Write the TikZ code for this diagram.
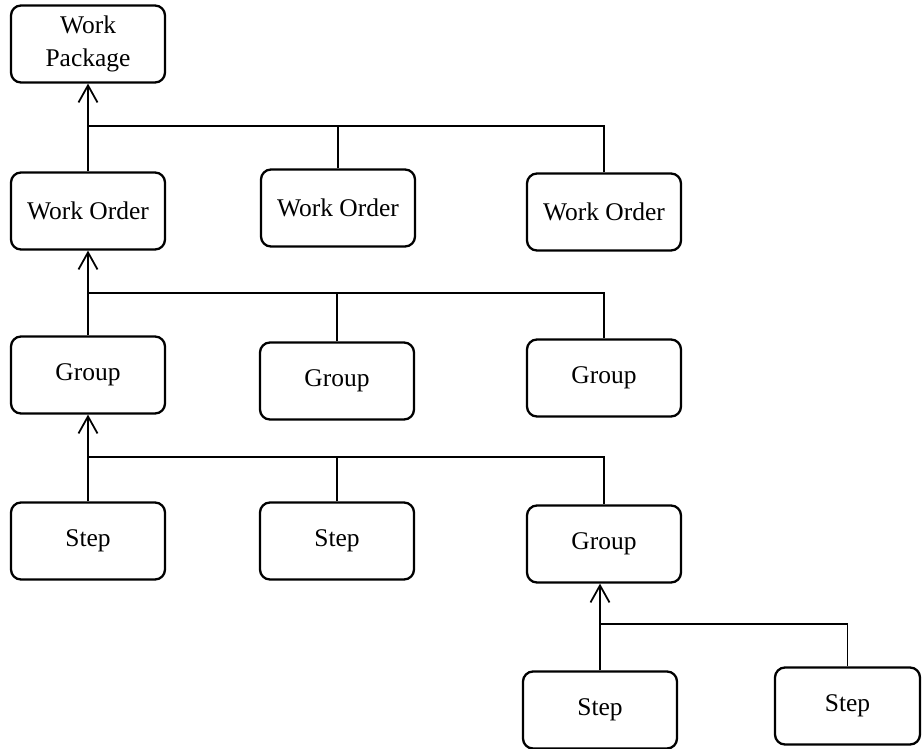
\documentclass[tikz,border=0pt]{standalone}
\usepackage{fontspec}
\setmainfont{Liberation Serif}
\usetikzlibrary{arrows.meta}

\begin{document}
\begin{tikzpicture}[
    box/.style={shape=rectangle,rounded corners=0.2cm,draw=black,line width=1.3pt,
        minimum width=3.08cm,minimum height=1.54cm,inner sep=0pt,align=center,
        font=\fontsize{14.5}{19}\selectfont},
    link/.style={line width=1pt},
    up/.style={link,-{Straight Barb[length=3.4mm,width=3.8mm,line width=1pt]}}
]
    \useasboundingbox (0,0) rectangle (18.44,-14.98);

    % level 0
    \node[box] (wp) at (1.76,-0.88) {Work\\Package};
    % level 1
    \node[box] (wo1) at (1.76,-4.22) {Work Order};
    \node[box] (wo2) at (6.76,-4.16) {Work Order};
    \node[box] (wo3) at (12.08,-4.24) {Work Order};
    % level 2
    \node[box] (g1) at (1.76,-7.5) {Group};
    \node[box] (g2) at (6.74,-7.62) {Group};
    \node[box] (g3) at (12.08,-7.56) {Group};
    % level 3
    \node[box] (s1) at (1.76,-10.82) {Step};
    \node[box] (s2) at (6.74,-10.82) {Step};
    \node[box] (g4) at (12.08,-10.88) {Group};
    % level 4
    \node[box] (s3) at (12.0,-14.2) {Step};
    \node[box,minimum width=2.9cm] (s4) at (16.95,-14.12) {Step};

    \coordinate (b1) at (1.76,-2.52);
    \coordinate (b2) at (1.76,-5.86);
    \coordinate (b3) at (1.76,-9.14);
    \coordinate (b4) at (12.0,-12.48);

    \draw[up] (wo1.north) -- (wp.south);
    \draw[link] (wo2.north) |- (b1);
    \draw[link] (wo3.north) |- (b1);

    \draw[up] (g1.north) -- (wo1.south);
    \draw[link] (g2.north) |- (b2);
    \draw[link] (g3.north) |- (b2);

    \draw[up] (s1.north) -- (g1.south);
    \draw[link] (s2.north) |- (b3);
    \draw[link] (g4.north) |- (b3);

    \draw[up] (s3.north) -- (s3.north |- g4.south);
    \draw[link] (s4.north) |- (b4);
\end{tikzpicture}
\end{document}
